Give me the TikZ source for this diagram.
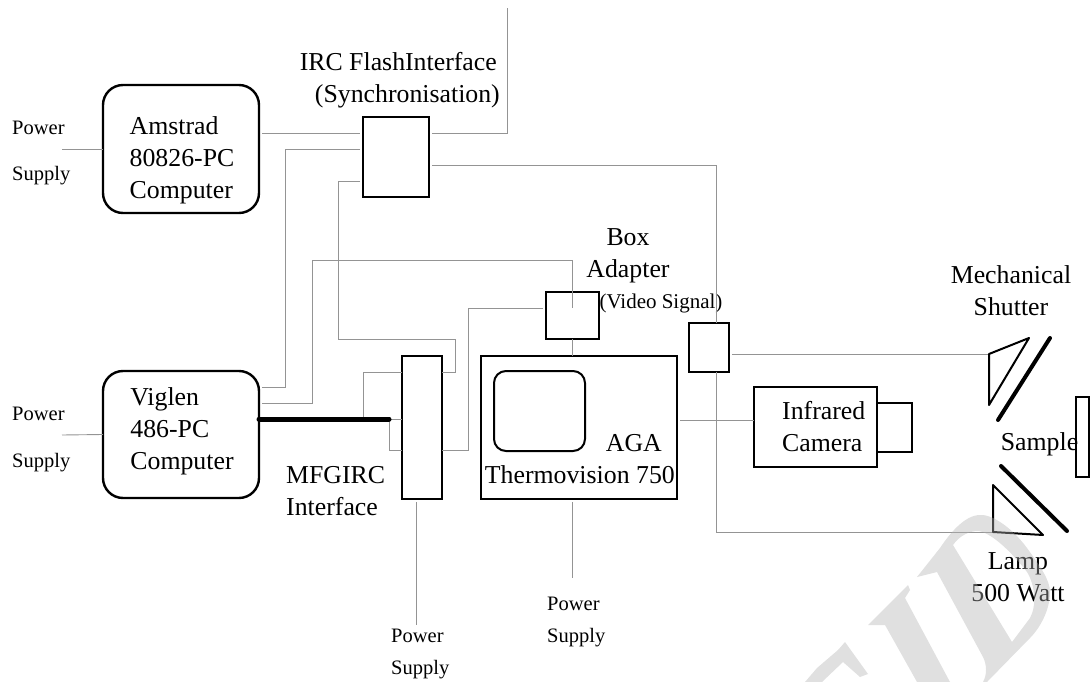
\documentclass[tikz,border=0pt]{standalone}
\usepackage{fontspec}
\setmainfont{Liberation Serif}
\definecolor{wirecol}{gray}{0.58}
\tikzset{
  boxnode/.style={draw=black,line width=2.4pt,inner sep=0pt,outer sep=0pt},
  pcnode/.style={boxnode,rounded corners=20pt},
  wire/.style={draw=wirecol,line width=0.9pt},
  gapwire/.style={wire,shorten >=3pt,shorten <=3pt},
  biglabel/.style={inner sep=0pt,font=\fontsize{25.8}{32}\selectfont},
  smalllabel/.style={inner sep=0pt,align=left,font=\fontsize{20.5}{32}\selectfont},
  widelabel/.style={inner sep=0pt,align=left,font=\fontsize{20.5}{47}\selectfont},
  stamp/.style={fill=black!30,fill opacity=0.4,even odd rule}
}
\begin{document}
\begin{tikzpicture}[x=1pt,y=-1pt]
\useasboundingbox (0,0) rectangle (1090,682);
\node[pcnode,minimum width=156pt,minimum height=128pt] (amstrad) at (181,149) {};
\node[pcnode,minimum width=156pt,minimum height=127pt] (viglen) at (181,434.5) {};
\node[boxnode,minimum width=66pt,minimum height=80pt] (flash) at (396,157) {};
\node[boxnode,minimum width=53pt,minimum height=47pt] (adapter) at (572.5,315.5) {};
\node[boxnode,minimum width=40pt,minimum height=143pt] (mfg) at (422,427.5) {};
\node[boxnode,minimum width=196pt,minimum height=143pt] (thermo) at (579,427.5) {};
\node[pcnode,line width=2pt,rounded corners=12pt,minimum width=91pt,minimum height=80pt] (screen) at (539.5,411) {};
\node[boxnode,minimum width=40pt,minimum height=49pt] (iface) at (709,347.5) {};
\node[boxnode,minimum width=123pt,minimum height=80pt] (camera) at (815.5,427) {};
\node[boxnode,minimum width=35pt,minimum height=49pt] (lens) at (894.5,427.5) {};
\node[boxnode,line width=2pt,minimum width=13pt,minimum height=80pt] (sample) at (1082.5,437) {};
\node[biglabel,align=left] (amstradtext) at (182,160) {Amstrad\\80826-PC\\Computer};
\node[biglabel,align=left] (viglentext) at (182,431) {Viglen\\486-PC\\Computer};
\node[biglabel,align=right,anchor=east] (flashtext) at (500,80) {IRC FlashInterface\hspace*{3pt}\\(Synchronisation)};
\node[biglabel,align=center] (adaptertext) at (628,256) {Box\\Adapter};
\node[inner sep=0pt,font=\fontsize{21}{25}\selectfont] (videotext) at (661,303) {(Video Signal)};
\node[biglabel,align=left,anchor=west] (mfgtext) at (286,491) {MFGIRC\\Interface};
\node[biglabel,align=right,anchor=east] (thermotext) at (675,459) {AGA\hspace*{13pt}\\Thermovision 750};
\node[biglabel,align=left,anchor=west] (cameratext) at (782,427) {Infrared\\Camera};
\node[biglabel,align=center] (shuttertext) at (1011,291) {Mechanical\\Shutter};
\node[biglabel] (sampletext) at (1039.5,444) {Sample};
\node[biglabel,align=center] (lamptext) at (1018,577) {Lamp\\500 Watt};
\node[widelabel,anchor=west] (supplya) at (12,153) {Power\\Supply};
\node[widelabel,anchor=west] (supplyb) at (12,439) {Power\\Supply};
\node[smalllabel,anchor=west] (supplyc) at (391,654) {Power\\Supply};
\node[smalllabel,anchor=west] (supplyd) at (547,622) {Power\\Supply};
\coordinate (enda) at (62,149);
\coordinate (endb) at (62,435);
\coordinate (endc) at (416,625);
\coordinate (endd) at (572,578);
\coordinate (endtop) at (507,8);
\coordinate (benda) at (285,387);
\coordinate (bendb) at (338,339);
\coordinate (bendc) at (455,372);
\coordinate (bendd) at (312,260);
\coordinate (bende) at (468,450);
\coordinate (bendf) at (363,419);
\coordinate (bendg) at (389,419);
\coordinate (shuttera) at (989,354);
\coordinate (shutterb) at (1029,338);
\coordinate (shutterc) at (989,405);
\coordinate (lampa) at (993,485);
\coordinate (lampb) at (993,532);
\coordinate (lampc) at (1043,535);
\draw[wire] (enda) -- (amstrad.west);
\draw[wire] (endb) -- (viglen.west);
\draw[gapwire] ([yshift=16pt]amstrad.east) -- ([yshift=24pt]flash.west);
\draw[wire,shorten <=3pt] ([yshift=24pt]flash.east) -| (endtop);
\draw[wire,shorten <=3pt,shorten >=3pt] ([yshift=8pt]flash.west) -| (benda) -- ([yshift=47.5pt]viglen.east);
\draw[wire,shorten <=3pt] ([yshift=-24pt]flash.west) -| (bendb) -| (bendc) -- ([yshift=55.5pt]mfg.east);
\draw[wire,shorten <=3pt] ([yshift=-8pt]flash.east) -| ([xshift=7.5pt]iface.north);
\draw[wire,shorten <=3pt] ([yshift=31.5pt]viglen.east) -| (bendd) -| ([yshift=7.5pt]adapter.center);
\draw[wire,shorten <=3pt] ([yshift=7.5pt]adapter.west) -| (bende) -- ([yshift=-22.5pt]mfg.east);
\draw[wire] (adapter.south) -- (adapter.south |- thermo.north);
\draw[wire] (bendf) |- ([yshift=55.5pt]mfg.west);
\draw[wire] (bendg) |- ([yshift=-22.5pt]mfg.west);
\draw[wire] (bendg) -- ([yshift=8.5pt]mfg.west);
\draw[wire,shorten <=3pt] ([xshift=-6pt]mfg.south) -- (endc);
\draw[wire,shorten <=3pt] ([xshift=-7pt]thermo.south) -- (endd);
\draw[gapwire,shorten >=0pt] ([yshift=7.5pt]thermo.east) -- ([yshift=7pt]camera.west);
\draw[wire,shorten <=3pt] ([yshift=-6.5pt]iface.east) -- (shuttera);
\draw[wire] ([xshift=7.5pt]iface.south) |- (lampb);
\draw[line width=5pt,line cap=round] ([yshift=15.5pt]viglen.east) -- (bendg);
\draw[line width=2pt,line join=round] (shuttera) -- (shutterb) -- (shutterc) -- cycle;
\draw[line width=4pt,line cap=round] (1050,338) -- (998,420);
\draw[line width=2pt,line join=round] (lampa) -- (lampb) -- (lampc) -- cycle;
\draw[line width=4pt,line cap=round] (1001,466) -- (1067,531);
\fill[stamp] (917,577) -- (940,548) .. controls (950,533) and (965,515) .. (980,515) .. controls (990,514) and (1010,525) .. (1027,548) .. controls (1040,566) and (1050,580) .. (1050,592) .. controls (1050,610) and (1040,628) .. (1030,638) -- (987,682) -- (983,682) .. controls (987,675) and (987,665) .. (983,657) -- (937,572) -- cycle
  (953,545) .. controls (960,535) and (970,531) .. (978,531) .. controls (990,532) and (1010,550) .. (1027,572) .. controls (1035,585) and (1037,605) .. (1030,618) -- (1012,642) -- cycle;
\fill[stamp] (868,625) -- (908,585) -- (910,590) -- (905,598) -- (950,682) -- (917,682) -- (885,625) -- cycle;
\fill[stamp] (845,642) -- (868,674) -- (860,677) -- (843,662) -- (822,682) -- (805,682) -- (817,668) -- (838,650) -- cycle;
\end{tikzpicture}
\end{document}
